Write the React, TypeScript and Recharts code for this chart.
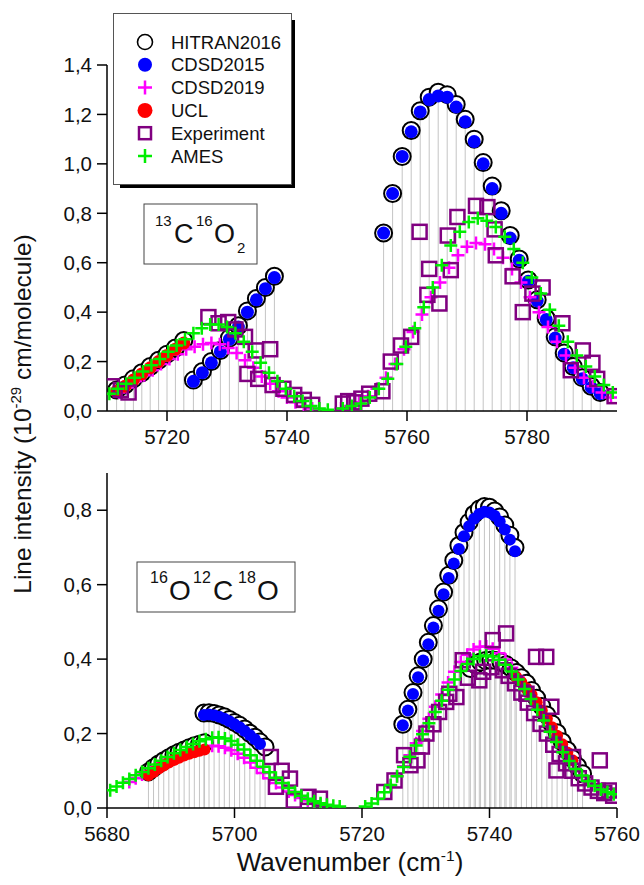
import { ScatterChart, Scatter, XAxis, YAxis, ErrorBar, Legend } from "recharts";

type Pt = [number, number];

// ---- axes ----
const TOP_X_TICKS = [5720, 5740, 5760, 5780];
const TOP_Y_TICKS = [0, 0.2, 0.4, 0.6, 0.8, 1.0, 1.2, 1.4];
const BOTTOM_X_TICKS = [5680, 5700, 5720, 5740, 5760];
const BOTTOM_Y_TICKS = [0, 0.2, 0.4, 0.6, 0.8];
const SERIES_NAMES = ["HITRAN2016", "CDSD2015", "CDSD2019", "UCL", "Experiment", "AMES"];

// ---- 13C16O2 (top panel) ----
const hitranTop: Pt[] = [
  [5711.6, 0.085], [5713.0, 0.105], [5714.4, 0.13], [5715.8, 0.155], [5717.2, 0.18], [5718.6, 0.205],
  [5720.0, 0.23], [5721.4, 0.255], [5722.8, 0.285],
  [5724.4, 0.125], [5725.9, 0.16], [5727.4, 0.2], [5728.9, 0.245], [5730.4, 0.295], [5731.9, 0.345],
  [5733.4, 0.405], [5734.9, 0.455], [5736.4, 0.5], [5737.9, 0.545],
  [5756.1, 0.72], [5757.6, 0.88], [5759.2, 1.03], [5760.7, 1.135], [5762.2, 1.215], [5763.7, 1.27],
  [5765.2, 1.29], [5766.7, 1.28], [5768.2, 1.24], [5769.7, 1.18], [5771.2, 1.1], [5772.7, 1.005],
  [5774.2, 0.91], [5775.7, 0.81], [5777.2, 0.71], [5778.7, 0.615], [5780.2, 0.53], [5781.7, 0.45],
  [5783.2, 0.375], [5784.7, 0.3], [5786.2, 0.235], [5787.7, 0.18], [5789.2, 0.135], [5790.7, 0.1],
  [5792.2, 0.075],
];
const cdsd2015Top: Pt[] = [
  [5724.4, 0.12], [5725.9, 0.155], [5727.4, 0.195], [5728.9, 0.24], [5730.4, 0.29], [5731.9, 0.34],
  [5733.4, 0.4], [5734.9, 0.45], [5736.4, 0.495], [5737.9, 0.54],
  [5756.1, 0.72], [5757.6, 0.88], [5759.2, 1.03], [5760.7, 1.13], [5762.2, 1.21], [5763.7, 1.26],
  [5765.2, 1.275], [5766.7, 1.27], [5768.2, 1.23], [5769.7, 1.17], [5771.2, 1.09], [5772.7, 1.0],
  [5774.2, 0.9], [5775.7, 0.8], [5777.2, 0.7], [5778.7, 0.61], [5780.2, 0.525], [5781.7, 0.445],
  [5783.2, 0.37], [5784.7, 0.295], [5786.2, 0.23], [5787.7, 0.175], [5789.2, 0.13], [5790.7, 0.095],
  [5792.2, 0.07],
];
const cdsd2019Top: Pt[] = [
  [5712.0, 0.075], [5713.4, 0.095], [5714.8, 0.12], [5716.2, 0.145], [5717.6, 0.165], [5719.0, 0.19],
  [5720.4, 0.21], [5721.8, 0.23], [5723.2, 0.25], [5724.6, 0.26], [5726.0, 0.27], [5727.4, 0.275],
  [5728.8, 0.27], [5730.2, 0.255], [5731.6, 0.235], [5733.0, 0.205], [5734.4, 0.175], [5735.8, 0.14],
  [5737.2, 0.11], [5738.6, 0.08], [5740.0, 0.055], [5741.4, 0.035], [5742.8, 0.02], [5744.2, 0.01],
  [5749.0, 0.01], [5750.5, 0.02], [5752.0, 0.035], [5753.5, 0.06], [5755.0, 0.09], [5756.5, 0.135],
  [5758.0, 0.19], [5759.5, 0.25], [5761.0, 0.32], [5762.5, 0.39], [5764.0, 0.46], [5765.5, 0.52],
  [5767.0, 0.58], [5768.5, 0.63], [5770.0, 0.665], [5771.5, 0.68], [5773.0, 0.675], [5774.5, 0.655],
  [5776.0, 0.62], [5777.5, 0.575], [5779.0, 0.52], [5780.5, 0.46], [5782.0, 0.4], [5783.5, 0.34],
  [5785.0, 0.28], [5786.5, 0.225], [5788.0, 0.175], [5789.5, 0.135], [5791.0, 0.1], [5792.5, 0.075],
  [5794.0, 0.055],
];
const uclTop: Pt[] = [
  [5711.6, 0.08], [5713.0, 0.1], [5714.4, 0.125], [5715.8, 0.15], [5717.2, 0.175], [5718.6, 0.2],
  [5720.0, 0.225], [5721.4, 0.25], [5722.8, 0.275],
];
const experimentTop: Pt[] = [
  [5710.8, 0.1], [5712.3, 0.085], [5713.6, 0.075], [5726.9, 0.38], [5728.6, 0.355], [5730.2, 0.36],
  [5731.4, 0.33], [5733.0, 0.3], [5733.4, 0.15], [5734.8, 0.245], [5735.2, 0.13], [5737.2, 0.25],
  [5737.6, 0.105], [5739.4, 0.09], [5741.2, 0.065], [5742.8, 0.045], [5744.2, 0.025],
  [5749.3, 0.03], [5750.2, 0.04], [5751.2, 0.035], [5752.4, 0.05], [5753.7, 0.07], [5755.9, 0.08],
  [5757.3, 0.2], [5759.0, 0.265], [5760.7, 0.3], [5762.1, 0.725], [5763.4, 0.47], [5763.7, 0.575],
  [5765.4, 0.435], [5766.8, 0.71], [5767.3, 0.57], [5768.4, 0.785], [5771.5, 0.83], [5773.4, 0.825],
  [5774.6, 0.735], [5774.8, 0.63], [5777.6, 0.545], [5779.3, 0.4], [5780.9, 0.475], [5782.6, 0.5],
  [5785.9, 0.355], [5787.3, 0.165], [5789.3, 0.245], [5790.9, 0.195], [5791.7, 0.13], [5794.6, 0.06],
];
const amesTop: Pt[] = [
  [5710.4, 0.07], [5711.8, 0.09], [5713.2, 0.11], [5714.6, 0.135], [5716.0, 0.16], [5717.4, 0.185],
  [5718.8, 0.21], [5720.2, 0.24], [5721.6, 0.265], [5723.0, 0.29], [5724.4, 0.315], [5725.8, 0.335],
  [5727.2, 0.35], [5728.6, 0.35], [5730.0, 0.34], [5731.4, 0.315], [5732.8, 0.28], [5734.2, 0.24],
  [5735.6, 0.195], [5737.0, 0.155], [5738.4, 0.12], [5739.8, 0.09], [5741.2, 0.06], [5742.6, 0.04],
  [5744.0, 0.02], [5745.4, 0.01], [5746.8, 0.005],
  [5749.3, 0.01], [5750.8, 0.02], [5752.3, 0.03], [5753.8, 0.055], [5755.3, 0.09], [5756.8, 0.13],
  [5758.3, 0.19], [5759.8, 0.26], [5761.3, 0.335], [5762.8, 0.42], [5764.3, 0.5], [5765.8, 0.59],
  [5767.3, 0.67], [5768.8, 0.725], [5770.3, 0.765], [5771.8, 0.78], [5773.3, 0.77], [5774.8, 0.745],
  [5776.3, 0.705], [5777.8, 0.655], [5779.3, 0.6], [5780.8, 0.54], [5782.3, 0.475], [5783.8, 0.41],
  [5785.3, 0.345], [5786.8, 0.28], [5788.3, 0.225], [5789.8, 0.18], [5791.3, 0.14], [5792.8, 0.105],
  [5794.3, 0.075],
];

// ---- 16O12C18O (bottom panel) ----
const hitranBottom: Pt[] = [
  [5686.5, 0.097], [5687.3, 0.108], [5688.1, 0.118], [5688.9, 0.127], [5689.7, 0.135], [5690.5, 0.143],
  [5691.3, 0.15], [5692.1, 0.156], [5692.9, 0.162], [5693.7, 0.167], [5694.5, 0.171], [5695.3, 0.175],
  [5695.2, 0.255], [5696.0, 0.256], [5696.8, 0.254], [5697.6, 0.25], [5698.4, 0.245], [5699.2, 0.238],
  [5700.0, 0.23], [5700.8, 0.222], [5701.6, 0.212], [5702.4, 0.201], [5703.2, 0.19], [5704.0, 0.177],
  [5704.8, 0.164],
  [5726.4, 0.225], [5727.2, 0.265], [5728.0, 0.31], [5728.8, 0.355], [5729.6, 0.4], [5730.4, 0.445],
  [5731.2, 0.49], [5732.0, 0.535], [5732.8, 0.58], [5733.6, 0.625], [5734.4, 0.665], [5735.2, 0.705],
  [5736.0, 0.74], [5736.8, 0.768], [5737.6, 0.79], [5738.4, 0.803], [5739.2, 0.81], [5740.0, 0.808],
  [5740.8, 0.798], [5741.6, 0.782], [5742.4, 0.76], [5743.2, 0.733], [5744.0, 0.7],
  [5737.0, 0.375], [5737.8, 0.385], [5738.6, 0.392], [5739.4, 0.396], [5740.2, 0.397], [5741.0, 0.396],
  [5741.8, 0.392], [5742.6, 0.385], [5743.4, 0.376], [5744.2, 0.364], [5745.0, 0.35], [5745.8, 0.335],
  [5746.6, 0.316], [5747.4, 0.295], [5748.2, 0.273], [5749.0, 0.25], [5749.8, 0.226], [5750.6, 0.202],
  [5751.4, 0.178], [5752.2, 0.155], [5753.0, 0.133], [5753.8, 0.112], [5754.6, 0.092],
];
const cdsd2015Bottom: Pt[] = [
  [5695.2, 0.25], [5696.0, 0.251], [5696.8, 0.249], [5697.6, 0.245], [5698.4, 0.24], [5699.2, 0.233],
  [5700.0, 0.225], [5700.8, 0.217], [5701.6, 0.207], [5702.4, 0.196], [5703.2, 0.185], [5704.0, 0.172],
  [5726.4, 0.222], [5727.2, 0.262], [5728.0, 0.306], [5728.8, 0.351], [5729.6, 0.396], [5730.4, 0.44],
  [5731.2, 0.485], [5732.0, 0.53], [5732.8, 0.574], [5733.6, 0.618], [5734.4, 0.657], [5735.2, 0.696],
  [5736.0, 0.73], [5736.8, 0.757], [5737.6, 0.777], [5738.4, 0.79], [5739.2, 0.796], [5740.0, 0.794],
  [5740.8, 0.785], [5741.6, 0.77], [5742.4, 0.748], [5743.2, 0.721], [5744.0, 0.69],
];
const cdsd2019Bottom: Pt[] = [
  [5683.5, 0.07], [5684.5, 0.08], [5685.5, 0.09], [5686.5, 0.1], [5687.5, 0.11], [5688.5, 0.12],
  [5689.5, 0.13], [5690.5, 0.138], [5691.5, 0.146], [5692.5, 0.153], [5693.5, 0.159], [5694.5, 0.163],
  [5695.5, 0.166], [5696.5, 0.167], [5697.5, 0.166], [5698.5, 0.162], [5699.5, 0.155], [5700.5, 0.146],
  [5701.5, 0.135], [5702.5, 0.122], [5703.5, 0.108], [5704.5, 0.094], [5705.5, 0.08], [5706.5, 0.067],
  [5707.5, 0.055], [5708.5, 0.044], [5709.5, 0.035], [5710.5, 0.027], [5711.5, 0.02], [5712.5, 0.014],
  [5713.5, 0.01],
  [5724.5, 0.06], [5725.5, 0.085], [5726.5, 0.112], [5727.5, 0.142], [5728.5, 0.174], [5729.5, 0.207],
  [5730.5, 0.24], [5731.5, 0.272], [5732.5, 0.305], [5733.5, 0.337], [5734.5, 0.366], [5735.5, 0.392],
  [5736.5, 0.412], [5737.5, 0.426], [5738.5, 0.433], [5739.5, 0.434], [5740.5, 0.428], [5741.5, 0.416],
  [5742.5, 0.399], [5743.5, 0.377], [5744.5, 0.352], [5745.5, 0.325], [5746.5, 0.296], [5747.5, 0.266],
  [5748.5, 0.236], [5749.5, 0.206], [5750.5, 0.178], [5751.5, 0.151], [5752.5, 0.127], [5753.5, 0.105],
  [5754.5, 0.086], [5755.5, 0.07],
];
const uclBottom: Pt[] = [
  [5686.5, 0.088], [5687.3, 0.097], [5688.1, 0.106], [5688.9, 0.114], [5689.7, 0.122], [5690.5, 0.129],
  [5691.3, 0.135], [5692.1, 0.141], [5692.9, 0.146], [5693.7, 0.15], [5694.5, 0.154], [5695.3, 0.157],
  [5744.2, 0.352], [5745.0, 0.338], [5745.8, 0.322], [5746.6, 0.304], [5747.4, 0.284], [5748.2, 0.262],
  [5749.0, 0.24], [5749.8, 0.217], [5750.6, 0.194], [5751.4, 0.171], [5752.2, 0.149], [5753.0, 0.128],
];
const experimentBottom: Pt[] = [
  [5705.7, 0.137], [5706.5, 0.057], [5707.4, 0.1], [5708.7, 0.079], [5709.3, 0.02], [5711.6, 0.03],
  [5713.4, 0.025],
  [5723.5, 0.043], [5725.1, 0.074], [5726.6, 0.142], [5727.6, 0.115], [5728.7, 0.128], [5729.4, 0.165],
  [5730.1, 0.2], [5731.2, 0.225], [5732.1, 0.258], [5733.2, 0.285], [5733.7, 0.307], [5734.8, 0.298],
  [5735.8, 0.397], [5736.6, 0.35], [5738.4, 0.343], [5739.0, 0.366], [5740.3, 0.378], [5740.5, 0.451],
  [5742.6, 0.469], [5742.1, 0.37], [5743.0, 0.355], [5744.0, 0.335], [5745.0, 0.31], [5745.8, 0.307],
  [5746.0, 0.283], [5747.0, 0.255], [5747.3, 0.406], [5748.0, 0.226], [5748.9, 0.406], [5749.0, 0.2],
  [5749.7, 0.272], [5750.0, 0.17], [5750.5, 0.101], [5751.0, 0.145], [5752.0, 0.12], [5753.1, 0.137],
  [5753.0, 0.1], [5754.0, 0.08], [5755.0, 0.066], [5756.0, 0.055], [5757.0, 0.046], [5757.3, 0.128],
  [5758.0, 0.04], [5758.8, 0.047], [5759.4, 0.033],
];
const amesBottom: Pt[] = [
  [5680.5, 0.048], [5681.5, 0.058], [5682.5, 0.068], [5683.5, 0.078], [5684.5, 0.088], [5685.5, 0.097],
  [5686.5, 0.107], [5687.5, 0.117], [5688.5, 0.127], [5689.5, 0.137], [5690.5, 0.147], [5691.5, 0.156],
  [5692.5, 0.164], [5693.5, 0.172], [5694.5, 0.179], [5695.5, 0.185], [5696.5, 0.189], [5697.5, 0.19],
  [5698.5, 0.187], [5699.5, 0.18], [5700.5, 0.17], [5701.5, 0.157], [5702.5, 0.142], [5703.5, 0.127],
  [5704.5, 0.111], [5705.5, 0.096], [5706.5, 0.081], [5707.5, 0.067], [5708.5, 0.054], [5709.5, 0.043],
  [5710.5, 0.033], [5711.5, 0.025], [5712.5, 0.018], [5713.5, 0.013], [5714.5, 0.009], [5715.5, 0.006],
  [5716.5, 0.004],
  [5720.5, 0.004], [5721.5, 0.012], [5722.5, 0.025], [5723.5, 0.042], [5724.5, 0.062], [5725.5, 0.085],
  [5726.5, 0.11], [5727.5, 0.138], [5728.5, 0.168], [5729.5, 0.198], [5730.5, 0.228], [5731.5, 0.258],
  [5732.5, 0.288], [5733.5, 0.318], [5734.5, 0.345], [5735.5, 0.368], [5736.5, 0.387], [5737.5, 0.4],
  [5738.5, 0.408], [5739.5, 0.41], [5740.5, 0.407], [5741.5, 0.398], [5742.5, 0.385], [5743.5, 0.367],
  [5744.5, 0.345], [5745.5, 0.32], [5746.5, 0.293], [5747.5, 0.264], [5748.5, 0.235], [5749.5, 0.205],
  [5750.5, 0.177], [5751.5, 0.15], [5752.5, 0.126], [5753.5, 0.105], [5754.5, 0.087], [5755.5, 0.072],
  [5756.5, 0.06], [5757.5, 0.05], [5758.5, 0.043], [5759.5, 0.037],
];

const FONT = "'Liberation Sans', Arial, Helvetica, sans-serif";
const PURPLE = "#800080";

const rows = (pts: Pt[]) => pts.map(([x, y]) => ({ x, y, stick: [y, 0] }));
const fmt = (v: number) => v.toFixed(1).replace(".", ",");

// marker shapes (Origin style)
const openCircle = (p: any) => (
  <circle cx={p.cx} cy={p.cy} r={8.5} fill="#fff" stroke="#000" strokeWidth={2} />
);
const dot = (color: string, r: number) => (p: any) => <circle cx={p.cx} cy={p.cy} r={r} fill={color} />;
const plus = (color: string) => (p: any) => (
  <path d={`M${p.cx - 6.5},${p.cy}h13M${p.cx},${p.cy - 6.5}v13`} stroke={color} strokeWidth={2.5} fill="none" />
);
const square = (p: any) => (
  <rect x={p.cx - 7} y={p.cy - 7} width={14} height={14} fill="none" stroke={PURPLE} strokeWidth={2.5} />
);

function LegendBox() {
  const sym = (i: number, cx: number, cy: number) => {
    switch (i) {
      case 0: return <circle cx={cx} cy={cy} r={7.5} fill="#fff" stroke="#000" strokeWidth={1.6} />;
      case 1: return <circle cx={cx} cy={cy} r={7} fill="#0000ff" />;
      case 2: return <path d={`M${cx - 7},${cy}h14M${cx},${cy - 7}v14`} stroke="#ff00ff" strokeWidth={2.5} />;
      case 3: return <circle cx={cx} cy={cy} r={7.5} fill="#ff0000" />;
      case 4: return <rect x={cx - 6} y={cy - 6} width={12} height={12} fill="none" stroke={PURPLE} strokeWidth={2.5} />;
      default: return <path d={`M${cx - 7},${cy}h14M${cx},${cy - 7}v14`} stroke="#00ee00" strokeWidth={2.5} />;
    }
  };
  return (
    <svg width={186} height={180} style={{ display: "block" }}>
      <rect x={7} y={7} width={175} height={168} fill="#000" />
      <rect x={0.5} y={0.5} width={178} height={171} fill="#fff" stroke="#555" />
      {SERIES_NAMES.map((name, i) => (
        <g key={name}>
          {sym(i, 32, 29 + i * 22.8)}
          <text x={58} y={29 + i * 22.8 + 6.5} fontSize={18.5} fontFamily={FONT} fill="#111">{name}</text>
        </g>
      ))}
    </svg>
  );
}

function Panel(props: {
  height: number; marginTop: number; xAxisHeight: number;
  xDomain: [number, number]; xTicks: number[]; yDomain: [number, number]; yTicks: number[];
  hitran: Pt[]; cdsd2015: Pt[]; cdsd2019: Pt[]; ucl: Pt[]; experiment: Pt[]; ames: Pt[];
  withLegend?: boolean; dotR: number;
}) {
  const tick = { fill: "#111", fontSize: 20.5, fontFamily: FONT };
  const line = { stroke: "#000", strokeWidth: 1.5 };
  return (
    <ScatterChart width={644} height={props.height} margin={{ top: props.marginTop, right: 27, bottom: 0, left: 0 }}>
      <XAxis type="number" dataKey="x" domain={props.xDomain} ticks={props.xTicks} allowDataOverflow
        tickSize={10} tickMargin={8} axisLine={line} tickLine={line} tick={tick} height={props.xAxisHeight} />
      <XAxis xAxisId="top" orientation="top" type="number" dataKey="x" domain={props.xDomain}
        tick={false} tickLine={false} axisLine={line} height={0} />
      <YAxis type="number" dataKey="y" domain={props.yDomain} ticks={props.yTicks} allowDataOverflow
        tickSize={10} tickMargin={5} axisLine={line} tickLine={line} tick={tick} tickFormatter={fmt} width={107} />
      <YAxis yAxisId="right" orientation="right" type="number" dataKey="y" domain={props.yDomain}
        tick={false} tickLine={false} axisLine={line} width={0} />
      <Scatter name="HITRAN2016" data={rows(props.hitran)} shape={openCircle} isAnimationActive={false}>
        <ErrorBar dataKey="stick" direction="y" width={0} stroke="#c4c4c4" strokeWidth={1} isAnimationActive={false} />
      </Scatter>
      <Scatter name="CDSD2015" data={rows(props.cdsd2015)} shape={dot("#0000ff", props.dotR)} isAnimationActive={false} />
      <Scatter name="CDSD2019" data={rows(props.cdsd2019)} shape={plus("#ff00ff")} isAnimationActive={false} />
      <Scatter name="UCL" data={rows(props.ucl)} shape={dot("#ff0000", props.dotR)} isAnimationActive={false} />
      <Scatter name="Experiment" data={rows(props.experiment)} shape={square} isAnimationActive={false} />
      <Scatter name="AMES" data={rows(props.ames)} shape={plus("#00ee00")} isAnimationActive={false} />
      {props.withLegend && (
        <Legend layout="vertical" align="center" verticalAlign="middle"
          wrapperStyle={{ left: 113, top: 13, width: 186, height: 180 }} content={() => <LegendBox />} />
      )}
    </ScatterChart>
  );
}

export default function App() {
  return (
    <div style={{ position: "absolute", left: 0, top: 0, width: 644, height: 885, background: "#fff", fontFamily: FONT }}>
      <div style={{ position: "absolute", left: 0, top: 0 }}>
        <Panel height={450} marginTop={65} xAxisHeight={39} xDomain={[5710, 5795]} xTicks={TOP_X_TICKS}
          yDomain={[0, 1.4]} yTicks={TOP_Y_TICKS} hitran={hitranTop} cdsd2015={cdsd2015Top} cdsd2019={cdsd2019Top}
          ucl={uclTop} experiment={experimentTop} ames={amesTop} withLegend dotR={6.5} />
      </div>
      <div style={{ position: "absolute", left: 0, top: 450 }}>
        <Panel height={435} marginTop={23} xAxisHeight={77} xDomain={[5680, 5760]} xTicks={BOTTOM_X_TICKS}
          yDomain={[0, 0.9]} yTicks={BOTTOM_Y_TICKS} hitran={hitranBottom} cdsd2015={cdsd2015Bottom}
          cdsd2019={cdsd2019Bottom} ucl={uclBottom} experiment={experimentBottom} ames={amesBottom} dotR={6} />
      </div>
      <svg width={644} height={885} style={{ position: "absolute", left: 0, top: 0, pointerEvents: "none" }}
        fontFamily={FONT} fill="#111">
        <text transform="translate(31,414) rotate(-90)" textAnchor="middle" fontSize={24.5}>
          Line intensity (10<tspan fontSize={15} dy={-10}>-29</tspan><tspan dy={10}> cm/molecule)</tspan>
        </text>
        <text x={350} y={871} textAnchor="middle" fontSize={26}>
          Wavenumber (cm<tspan fontSize={15.5} dy={-10}>-1</tspan><tspan dy={10}>)</tspan>
        </text>
        <rect x={144} y={204} width={113} height={60} fill="#fff" stroke="#444" strokeWidth={1} />
        <text fontSize={27}>
          <tspan x={155} y={226} fontSize={15}>13</tspan>
          <tspan x={174} y={243}>C</tspan>
          <tspan x={196} y={226} fontSize={15}>16</tspan>
          <tspan x={214} y={243}>O</tspan>
          <tspan x={237} y={253} fontSize={15}>2</tspan>
        </text>
        <rect x={137} y={562} width={158} height={50} fill="#fff" stroke="#444" strokeWidth={1} />
        <text fontSize={28}>
          <tspan x={150} y={583} fontSize={16}>16</tspan>
          <tspan x={169} y={600}>O</tspan>
          <tspan x={193} y={583} fontSize={16}>12</tspan>
          <tspan x={213} y={600}>C</tspan>
          <tspan x={238} y={583} fontSize={16}>18</tspan>
          <tspan x={257} y={600}>O</tspan>
        </text>
      </svg>
    </div>
  );
}
